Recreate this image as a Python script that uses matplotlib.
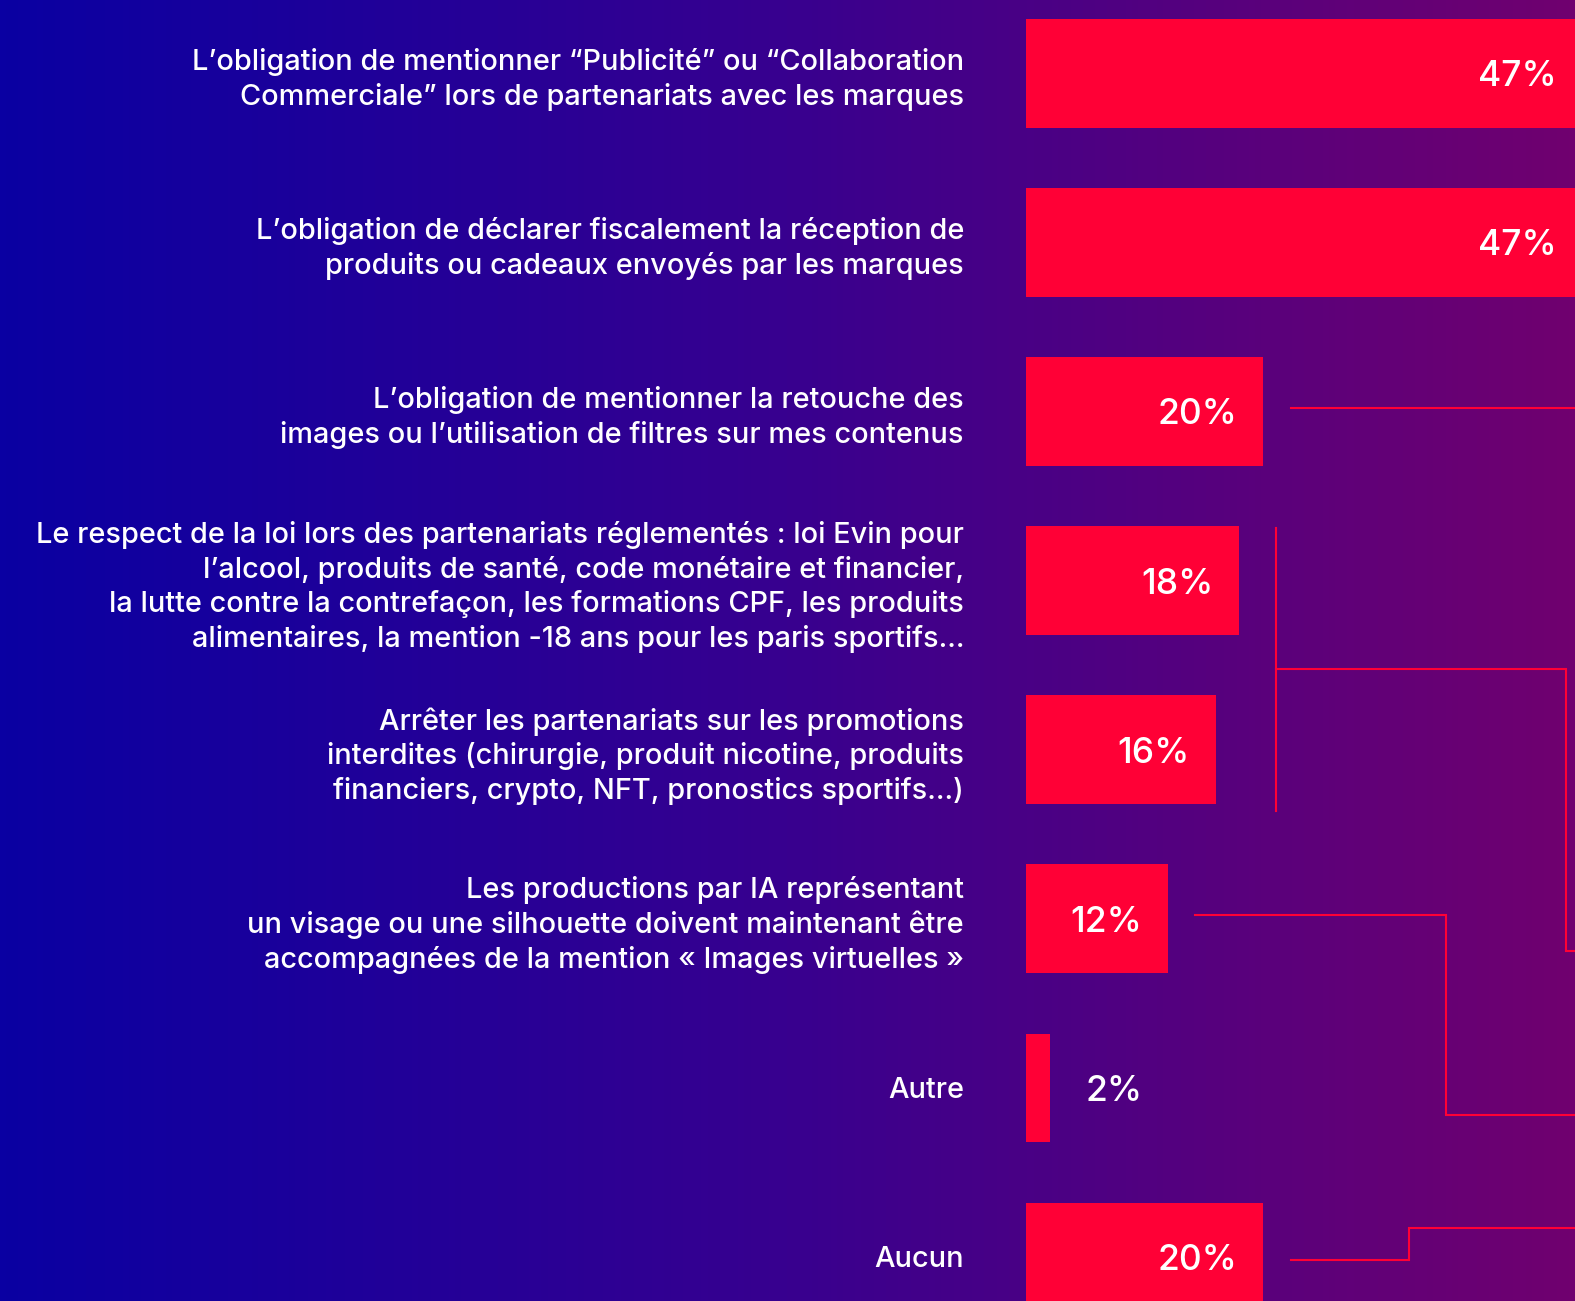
import matplotlib
matplotlib.use("Agg")
import matplotlib.pyplot as plt
import numpy as np
from matplotlib.colors import LinearSegmentedColormap

# ---------------- data ----------------
categories = [
    "L\u2019obligation de mentionner \u201cPublicit\u00e9\u201d ou \u201cCollaboration\nCommerciale\u201d lors de partenariats avec les marques",
    "L\u2019obligation de d\u00e9clarer fiscalement la r\u00e9ception de\nproduits ou cadeaux envoy\u00e9s par les marques",
    "L\u2019obligation de mentionner la retouche des\nimages ou l\u2019utilisation de filtres sur mes contenus",
    "Le respect de la loi lors des partenariats r\u00e9glement\u00e9s : loi Evin pour\nl\u2019alcool, produits de sant\u00e9, code mon\u00e9taire et financier,\nla lutte contre la contrefa\u00e7on, les formations CPF, les produits\nalimentaires, la mention -18 ans pour les paris sportifs...",
    "Arr\u00eater les partenariats sur les promotions\ninterdites (chirurgie, produit nicotine, produits\nfinanciers, crypto, NFT, pronostics sportifs...)",
    "Les productions par IA repr\u00e9sentant\nun visage ou une silhouette doivent maintenant \u00eatre\naccompagn\u00e9es de la mention \u00ab Images virtuelles \u00bb",
    "Autre",
    "Aucun",
]
values = [47, 47, 20, 18, 16, 12, 2, 20]
value_labels = ["47%", "47%", "20%", "18%", "16%", "12%", "2%", "20%"]

# ---------------- style ----------------
RED = "#ff0036"
W, H, DPI = 1575, 1301, 100
FONT = ["Inter", "DejaVu Sans"]
plt.rcParams["font.family"] = FONT

fig = plt.figure(figsize=(W / DPI, H / DPI), dpi=DPI)

# gradient background
bg = fig.add_axes([0, 0, 1, 1], zorder=0)
grad = np.linspace(0, 1, 512)[None, :]
cmap = LinearSegmentedColormap.from_list("bg", ["#0a00a2", "#38008f", "#70006f"])
bg.imshow(grad, aspect="auto", cmap=cmap, extent=[0, 1, 0, 1])
bg.set_axis_off()

# bar axes
x_left_px = 1026
px_per_pct = 11.85
ax = fig.add_axes([x_left_px / W, 0, 1 - x_left_px / W, 1], zorder=1)
ax.patch.set_alpha(0)
ax.set_xlim(0, (W - x_left_px) / px_per_pct)
row_px = 169.1
first_center_px = 73.3
ax.set_ylim((H - first_center_px) / row_px, -first_center_px / row_px)

y = np.arange(len(categories))
ax.barh(y, values, height=108.6 / row_px, color=RED, zorder=2)

for i, (v, lab) in enumerate(zip(values, value_labels)):
    if v >= 5:
        ax.annotate(lab, (v, i), xytext=(-26 * 72 / DPI, 0), textcoords="offset points",
                    ha="right", va="center_baseline", color="white", fontsize=25.5,
                    weight=500, zorder=3, annotation_clip=False)
    else:
        ax.annotate(lab, (v, i), xytext=(36 * 72 / DPI, 0), textcoords="offset points",
                    ha="left", va="center_baseline", color="white", fontsize=25.5,
                    weight=500, zorder=3, annotation_clip=False)

ax.set_yticks(y)
ax.set_yticklabels(categories, fontsize=20.8, color="white", linespacing=1.30, weight=500)
ax.tick_params(axis="y", length=0, pad=62 * 72 / DPI)
ax.set_xticks([])
for s in ax.spines.values():
    s.set_visible(False)

# decorative connector lines (in data units of the bar axes)
xr = ax.get_xlim()[1] + 1
lw = 1.5
connectors = [
    ([22.4, xr], [1.98, 1.98]),
    ([21.1, 21.1], [2.69, 4.36]),
    ([21.1, 45.57, 45.57, xr], [3.52, 3.52, 5.19, 5.19]),
    ([14.26, 35.44, 35.44, xr], [4.98, 4.98, 6.16, 6.16]),
    ([22.4, 32.32, 32.32, xr], [7.02, 7.02, 6.83, 6.83]),
]
for xs, ys in connectors:
    ax.plot(xs, ys, color=RED, lw=lw, solid_joinstyle="miter", clip_on=False, zorder=1)

fig.savefig("out.png", dpi=DPI)
